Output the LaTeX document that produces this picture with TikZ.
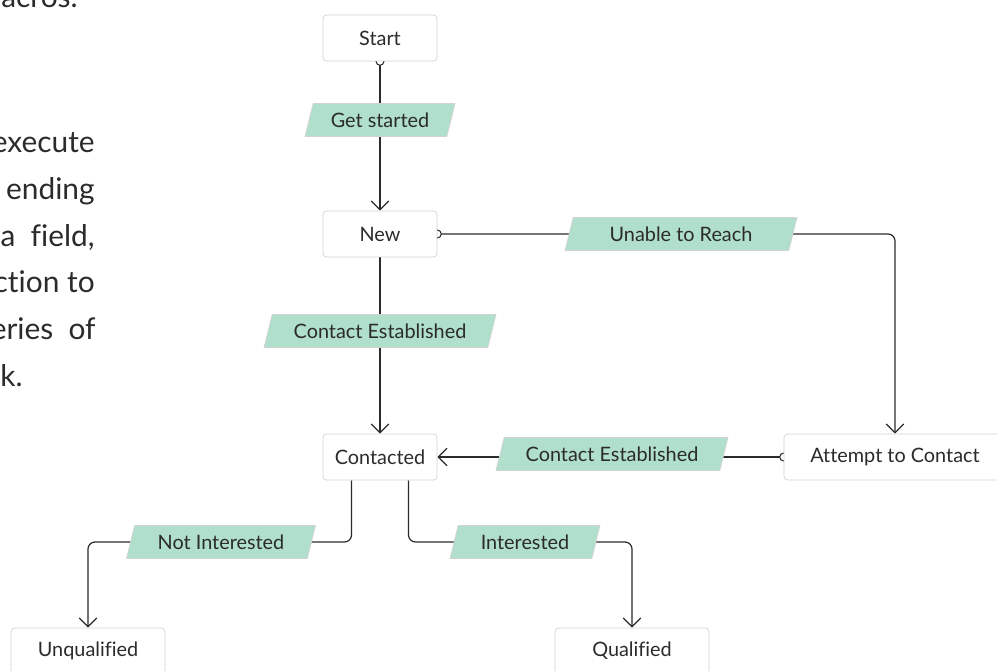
\documentclass[tikz,border=0pt]{standalone}
\usepackage{fontspec}
\setmainfont{Lato}[Ligatures=NoCommon]
\usetikzlibrary{positioning,shapes.geometric,arrows.meta,backgrounds}
\definecolor{edgegray}{HTML}{D2D2D2}
\definecolor{mint}{HTML}{B0DFCC}
\definecolor{ink}{HTML}{2B2B2B}
\tikzset{
  state/.style={draw=edgegray, fill=white, rounded corners=2pt, minimum width=2.28cm,
    minimum height=0.92cm, text=ink, font=\fontsize{11.3}{13}\selectfont},
  trans/.style={trapezium, trapezium left angle=61, trapezium right angle=119,
    trapezium stretches body, draw=edgegray, fill=mint, minimum height=0.66cm,
    inner ysep=0pt, text=ink, font=\fontsize{11.3}{13}\selectfont},
  flow/.style={draw=ink, line width=0.7pt, rounded corners=4pt},
  ring/.style={circle, draw=ink, fill=white, line width=0.6pt, inner sep=0pt, minimum size=4.5pt},
  para/.style={anchor=base east, inner sep=0pt, text=ink, font=\fontsize{17}{20}\selectfont}
}
\begin{document}
\begin{tikzpicture}[x=0.02cm, y=-0.02cm, >={Straight Barb[length=5pt,width=10pt]}]
\useasboundingbox (0,0) rectangle (997,671);
% paragraph cut off at the left edge
\node[para] (p0) at (78,8) {acros.};
\node[para] (p1) at (95,153) {execute};
\node[para] (p2) at (95,200) {ending};
\node[para] (p3) at (95,247) {a\ \ field,};
\node[para] (p4) at (95,293) {ction\ to};
\node[para] (p5) at (96,340) {eries\ \ of};
\node[para] (p6) at (23,387) {k.};

% states
\node[state] (Start) at (380,38) {Start};
\node[state] (New) at (380,234) {New};
\node[state] (Contacted) at (380,457) {Contacted};
\node[state, minimum width=4.44cm] (Attempt) at (895,457) {Attempt to Contact};
\node[state, minimum width=3.08cm] (Unqualified) at (88,651) {Unqualified};
\node[state, minimum width=3.08cm] (Qualified) at (632,651) {Qualified};

% transitions
\node[trans, minimum width=3cm] (GetStarted) at (380,120) {Get started};
\node[trans, minimum width=4.64cm] (Unable) at (681,234) {Unable to Reach};
\node[trans, minimum width=4.64cm] (EstNew) at (380,331) {Contact Established};
\node[trans, minimum width=4.64cm] (EstAttempt) at (612,454) {Contact Established};
\node[trans, minimum width=3.78cm] (NotInt) at (221,542) {Not Interested};
\node[trans, minimum width=3cm] (Int) at (525,542) {Interested};

\begin{scope}[on background layer]
  \draw[flow, ->] (Start.south) -- (New.north);
  \draw[flow, ->] (New.east) -| (Attempt.north);
  \draw[flow, ->] (New.south) -- (Contacted.north);
  \draw[flow, ->] (Attempt.west) -- (Contacted.east);
  \draw[flow, ->] ([xshift=-0.57cm]Contacted.south) |- (NotInt.center) -| (Unqualified.north);
  \draw[flow, ->] ([xshift=0.57cm]Contacted.south) |- (Int.center) -| (Qualified.north);
  \node[ring] (r1) at (Start.south) {};
  \node[ring] (r2) at (New.east) {};
  \node[ring] (r3) at (Attempt.west) {};
\end{scope}
\end{tikzpicture}
\end{document}
